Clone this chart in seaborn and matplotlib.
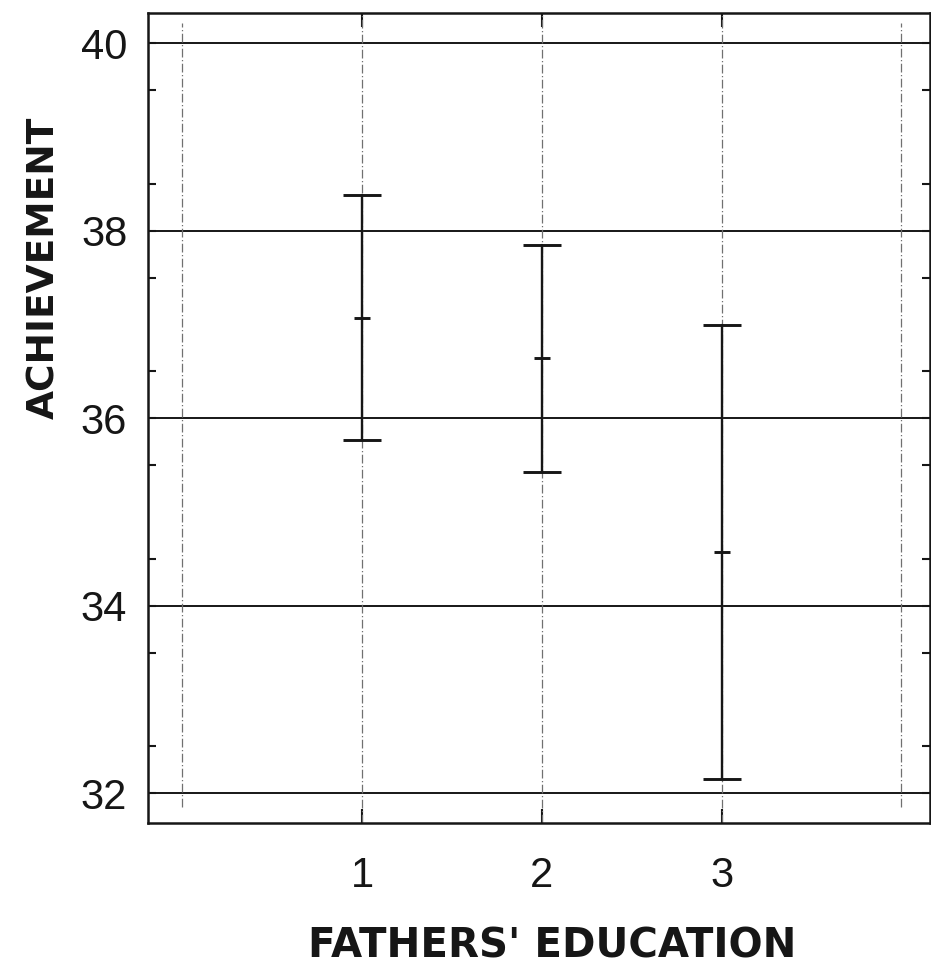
import matplotlib
matplotlib.use("Agg")
import matplotlib.pyplot as plt
import numpy as np
import pandas as pd
import seaborn as sns

# Mean achievement with interval limits by level of fathers' education
education = [1, 2, 3]
mean_score = [37.07, 36.64, 34.57]
lower_limit = [35.77, 35.43, 32.15]
upper_limit = [38.38, 37.85, 37.00]

y_ticks = [32, 34, 36, 38, 40]
x_ticks = [1, 2, 3]

sns.set_theme(style="white")
plt.rcParams["font.family"] = ["Liberation Sans", "DejaVu Sans"]

ink = "#161616"

fig = plt.figure(figsize=(9.31, 9.65), dpi=100)
ax = fig.add_axes([0.159, 0.147, 0.840, 0.840])

ax.set_xlim(-0.19, 4.16)
ax.set_ylim(31.68, 40.33)

# horizontal grid lines (solid) and vertical reference lines (dash-dot)
for yv in y_ticks:
    ax.axhline(yv, color=ink, lw=1.4, zorder=1)
for xv in [0, 4]:
    ax.vlines(xv, 31.85, 40.22, color="#707070", lw=0.9,
              linestyles=(0, (7, 2, 1, 2)), zorder=1)
for xv in x_ticks:
    ax.axvline(xv, color="#707070", lw=0.9,
               linestyle=(0, (7, 2, 1, 2)), zorder=1)

# interval whiskers
long = pd.DataFrame({
    "education": education * 2,
    "value": lower_limit + upper_limit,
})
sns.lineplot(data=long, x="education", y="value", units="education",
             estimator=None, color=ink, lw=1.7, ax=ax, zorder=3)

# end caps and mean ticks
sns.scatterplot(data=long, x="education", y="value", marker="_",
                s=27 ** 2, color=ink, linewidth=2.1, ax=ax, zorder=4)
means = pd.DataFrame({"education": education, "value": mean_score})
sns.scatterplot(data=means, x="education", y="value", marker="_",
                s=12 ** 2, color=ink, linewidth=2.1, ax=ax, zorder=4)

# axes, ticks, labels
for side in ["left", "right", "top", "bottom"]:
    ax.spines[side].set_visible(True)
    ax.spines[side].set_color(ink)
    ax.spines[side].set_linewidth(1.8)

ax.set_yticks(y_ticks)
ax.set_yticklabels([str(v) for v in y_ticks])
ax.set_yticks(np.arange(32.5, 40.0, 1.0), minor=True)
ax.set_xticks(x_ticks)
ax.set_xticklabels([str(v) for v in x_ticks])

ax.tick_params(axis="y", which="major", direction="in", length=6, width=1.5,
               color=ink, left=True, right=True, labelsize=30, pad=15,
               labelcolor=ink)
ax.tick_params(axis="y", which="minor", direction="in", length=6, width=1.5,
               color=ink, left=True, right=True)
ax.tick_params(axis="x", which="major", direction="in", length=10, width=1.5,
               color=ink, bottom=True, top=True, labelsize=30, pad=24,
               labelcolor=ink)

label_font = ["DejaVu Sans"]
ax.set_xlabel("FATHERS' EDUCATION", fontsize=29, fontweight="bold",
              color=ink, family=label_font)
ax.set_ylabel("ACHIEVEMENT", fontsize=27, fontweight="bold",
              color=ink, family=label_font)
ax.xaxis.set_label_coords(0.517, -0.127)
ax.yaxis.set_label_coords(-0.110, 0.685)
ax.grid(False)

fig.savefig("out.png", dpi=100, facecolor="white")
